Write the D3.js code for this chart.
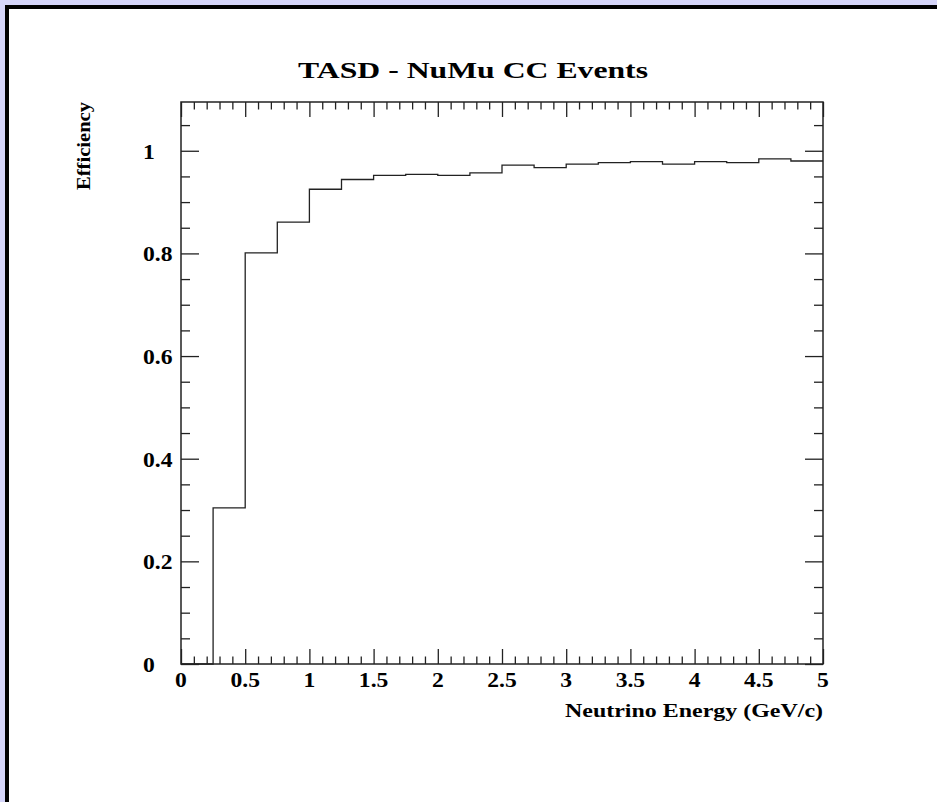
<!DOCTYPE html>
<html>
<head>
<meta charset="utf-8">
<script src="https://cdn.jsdelivr.net/npm/d3@7"></script>
<style>
  body { margin: 0; background: #fff; }
  svg { display: block; }
  text { font-family: "Liberation Serif", "DejaVu Serif", serif; font-weight: bold; fill: #000; }
</style>
</head>
<body>
<svg id="chart"></svg>
<script>
// histogram bins (GeV/c), 0.25 wide, and efficiency per bin
const binEdges = [0, 0.25, 0.5, 0.75, 1, 1.25, 1.5, 1.75, 2, 2.25, 2.5, 2.75, 3, 3.25, 3.5, 3.75, 4, 4.25, 4.5, 4.75, 5];
const efficiency = [0, 0.304, 0.801, 0.861, 0.925, 0.944, 0.952, 0.954, 0.952, 0.957,
                    0.972, 0.967, 0.974, 0.977, 0.979, 0.974, 0.979, 0.977, 0.984, 0.980];
const xTickLabels = ["0", "0.5", "1", "1.5", "2", "2.5", "3", "3.5", "4", "4.5", "5"];
const yTickLabels = ["0", "0.2", "0.4", "0.6", "0.8", "1"];

const width = 937;
const height = 802;
const frame = { left: 181, right: 823, top: 102, bottom: 664 };

const svg = d3.select("#chart")
  .attr("width", width)
  .attr("height", height);

// window-like border: lavender edge, black line, white canvas
svg.append("rect").attr("width", width).attr("height", height).attr("fill", "#d5d5f9");
svg.append("rect").attr("x", 5).attr("y", 5).attr("width", width).attr("height", height).attr("fill", "#000");
svg.append("rect").attr("x", 9).attr("y", 9).attr("width", width).attr("height", height).attr("fill", "#fff");

const xScale = d3.scaleLinear()
  .domain([0, 5])
  .range([frame.left, frame.right]);

const yScale = d3.scaleLinear()
  .domain([0, 1.095])
  .range([frame.bottom, frame.top]);

const stroke = "#222";

// ticks on all four sides, pointing inward
const xMajor = xTickLabels.map(Number);
const xMinor = d3.range(0, 5.0001, 0.1).filter(v => Math.abs(v * 2 - Math.round(v * 2)) > 1e-6);
const yMajor = yTickLabels.map(Number);
const yMinor = d3.range(0, 1.0501, 0.05).filter(v => Math.abs(v * 5 - Math.round(v * 5)) > 1e-6);

function tickAxis(axisFn, scale, values, size, transform) {
  const g = svg.append("g")
    .attr("transform", transform)
    .call(axisFn(scale).tickValues(values).tickSizeInner(-size).tickSizeOuter(0).tickFormat(""));
  g.select(".domain").remove();
  g.selectAll("line").attr("stroke", stroke).attr("stroke-width", 1.3);
}

tickAxis(d3.axisBottom, xScale, xMajor, 15, `translate(0,${frame.bottom})`);
tickAxis(d3.axisBottom, xScale, xMinor, 7.5, `translate(0,${frame.bottom})`);
tickAxis(d3.axisTop, xScale, xMajor, 15, `translate(0,${frame.top})`);
tickAxis(d3.axisTop, xScale, xMinor, 7.5, `translate(0,${frame.top})`);
tickAxis(d3.axisLeft, yScale, yMajor, 18, `translate(${frame.left},0)`);
tickAxis(d3.axisLeft, yScale, yMinor, 9, `translate(${frame.left},0)`);
tickAxis(d3.axisRight, yScale, yMajor, 18, `translate(${frame.right},0)`);
tickAxis(d3.axisRight, yScale, yMinor, 9, `translate(${frame.right},0)`);

svg.append("rect")
  .attr("x", frame.left)
  .attr("y", frame.top)
  .attr("width", frame.right - frame.left)
  .attr("height", frame.bottom - frame.top)
  .attr("fill", "none")
  .attr("stroke", stroke)
  .attr("stroke-width", 1.5);

// histogram outline
const steps = efficiency.map((v, i) => ({ x: binEdges[i], y: v }));
steps.push({ x: binEdges[binEdges.length - 1], y: efficiency[efficiency.length - 1] });

svg.append("path")
  .datum(steps)
  .attr("fill", "none")
  .attr("stroke", stroke)
  .attr("stroke-width", 1.3)
  .attr("d", d3.line().x(d => xScale(d.x)).y(d => yScale(d.y)).curve(d3.curveStepAfter));

// the original lettering is a little wider than the serif font we have
function widen(sel, k) {
  sel.each(function () {
    const w = this.getComputedTextLength();
    d3.select(this).attr("textLength", w * k).attr("lengthAdjust", "spacingAndGlyphs");
  });
}

// tick labels
svg.append("g").selectAll("text")
  .data(xTickLabels)
  .join("text")
  .attr("x", d => xScale(+d))
  .attr("y", 687)
  .attr("text-anchor", "middle")
  .attr("font-size", 20)
  .text(d => d)
  .call(widen, 1.18);

svg.append("g").selectAll("text")
  .data(yTickLabels)
  .join("text")
  .attr("x", 143)
  .attr("y", d => yScale(+d) + 8)
  .attr("font-size", 20)
  .text(d => d)
  .call(widen, 1.18);

// titles
svg.append("text")
  .attr("x", 473)
  .attr("y", 78)
  .attr("text-anchor", "middle")
  .attr("font-size", 24)
  .attr("textLength", 350)
  .attr("lengthAdjust", "spacingAndGlyphs")
  .text("TASD - NuMu CC Events");

svg.append("text")
  .attr("x", frame.right)
  .attr("y", 717)
  .attr("text-anchor", "end")
  .attr("font-size", 18)
  .attr("textLength", 258)
  .attr("lengthAdjust", "spacingAndGlyphs")
  .text("Neutrino Energy (GeV/c)");

svg.append("text")
  .attr("transform", `translate(90,${frame.top}) rotate(-90)`)
  .attr("text-anchor", "end")
  .attr("font-size", 18)
  .attr("textLength", 88)
  .attr("lengthAdjust", "spacingAndGlyphs")
  .text("Efficiency");
</script>
</body>
</html>
